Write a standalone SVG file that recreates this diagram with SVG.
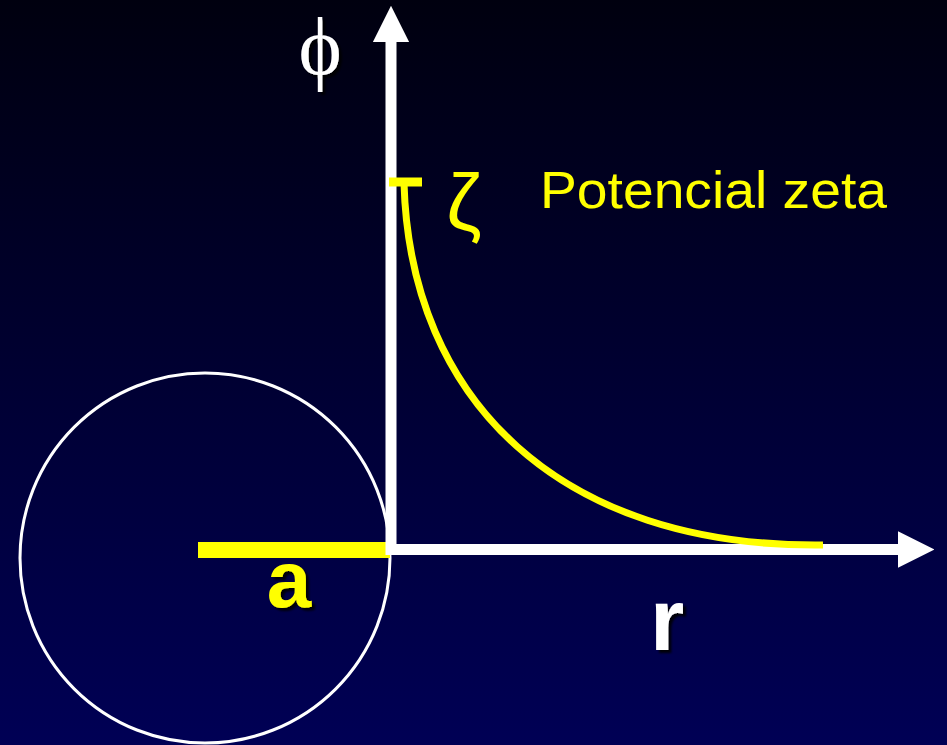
<svg xmlns="http://www.w3.org/2000/svg" width="947" height="745" viewBox="0 0 947 745">
  <defs>
    <linearGradient id="bg" x1="0" y1="0" x2="0" y2="1">
      <stop offset="0" stop-color="#00000f"/>
      <stop offset="1" stop-color="#000055"/>
    </linearGradient>
    <marker id="arrow" viewBox="0 0 10 10" refX="0" refY="5" markerWidth="3.3" markerHeight="3.3" orient="auto" markerUnits="strokeWidth">
      <path d="M0,0 L10,5 L0,10 Z" fill="#ffffff"/>
    </marker>
    <filter id="shadow" x="-20%" y="-20%" width="160%" height="160%">
      <feDropShadow dx="3" dy="3" stdDeviation="1" flood-color="#000000" flood-opacity="0.9"/>
    </filter>
    <style>
      .axis { stroke: #ffffff; stroke-width: 11; fill: none; }
      .yel { stroke: #ffff00; fill: none; }
      .lbl { font-family: "Liberation Sans", "DejaVu Sans", sans-serif; }
      .serif { font-family: "Liberation Serif", "DejaVu Serif", serif; }
    </style>
  </defs>
  <rect x="0" y="0" width="947" height="745" fill="url(#bg)"/>

  <g id="particle">
    <circle cx="205" cy="558" r="185" fill="none" stroke="#ffffff" stroke-width="3"/>
    <rect x="198" y="542" width="192" height="16" fill="#ffff00"/>
  </g>

  <g id="connectors">
    <line class="axis" x1="391" y1="555" x2="391" y2="42" marker-end="url(#arrow)"/>
    <line class="axis" x1="386" y1="549.5" x2="898" y2="549.5" marker-end="url(#arrow)"/>
  </g>

  <g id="curve">
    <line class="yel" x1="389" y1="182" x2="422" y2="182" stroke-width="9"/>
    <path class="yel" d="M404,183 C410,400 560,548 823,545" stroke-width="7"/>
  </g>

  <g id="labels">
    <text class="serif" x="320" y="74" font-size="82" fill="#ffffff" text-anchor="middle" filter="url(#shadow)">ϕ</text>
    <text class="lbl" x="464" y="230" font-size="80" fill="#ffff00" text-anchor="middle">ζ</text>
    <text class="lbl" x="540" y="208" font-size="52" fill="#ffff00" textLength="347" lengthAdjust="spacingAndGlyphs">Potencial zeta</text>
    <text class="lbl" x="289" y="607" font-size="80" font-weight="bold" fill="#ffff00" text-anchor="middle" filter="url(#shadow)">a</text>
    <text class="lbl" x="667" y="650" font-size="88" font-weight="bold" fill="#ffffff" text-anchor="middle" filter="url(#shadow)">r</text>
  </g>
</svg>
